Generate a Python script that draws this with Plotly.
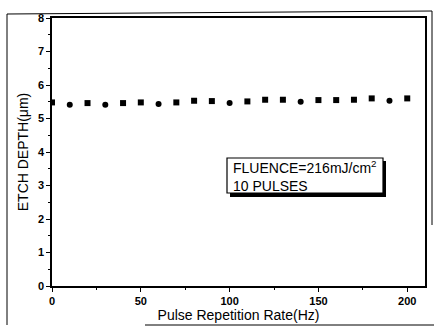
import plotly.graph_objects as go

rate_hz = [0, 10, 20, 30, 40, 50, 60, 70, 80, 90, 100, 110, 120, 130, 140, 150, 160, 170, 180, 190, 200]
etch_depth = [5.48, 5.41, 5.46, 5.41, 5.46, 5.48, 5.43, 5.48, 5.53, 5.52, 5.46, 5.51, 5.56, 5.56,
              5.50, 5.55, 5.55, 5.56, 5.60, 5.53, 5.60]
marker_syms = ["square", "circle", "square", "circle", "square", "square", "circle", "square",
               "square", "square", "circle", "square", "square", "square", "circle", "square",
               "square", "square", "square", "circle", "square"]
x_ticks = [0, 50, 100, 150, 200]
y_ticks = [0, 1, 2, 3, 4, 5, 6, 7, 8]

W, H = 434, 329
L, R, T, B = 52, 9, 18, 43
PW, PH = W - L - R, H - T - B

def px(x):
    return (x - L) / PW

def py(y):
    return (H - B - y) / PH

FONT = "Liberation Sans, Arial"

fig = go.Figure()
fig.add_trace(go.Scatter(
    x=rate_hz, y=etch_depth, mode="markers",
    marker=dict(symbol=marker_syms, size=6, color="black"),
    showlegend=False,
))

axis_common = dict(showline=True, linecolor="black", linewidth=1.5, mirror=True,
                   ticks="outside", ticklen=4, tickcolor="black", showgrid=False,
                   zeroline=False, automargin=False,
                   tickfont=dict(family=FONT, size=11, color="black", weight="bold"))

fig.update_xaxes(range=[0, 210], tickvals=x_ticks,
                 minor=dict(ticks="outside", ticklen=2, dtick=25, tickcolor="black"),
                 title=dict(text="Pulse Repetition Rate(Hz)", font=dict(family=FONT, size=14, color="black"), standoff=3),
                 **axis_common)
fig.update_yaxes(range=[0, 8], tickvals=y_ticks,
                 minor=dict(ticks="outside", ticklen=2, dtick=0.5, tickcolor="black"),
                 title=dict(text="ETCH DEPTH(μm)", font=dict(family=FONT, size=14, color="black"), standoff=6),
                 **axis_common)

shapes = [
    # outer scanned frame
    dict(type="line", xref="paper", yref="paper", x0=px(7), x1=px(7), y0=py(14), y1=py(325), line=dict(color="black", width=1)),
    dict(type="line", xref="paper", yref="paper", x0=px(7), x1=px(432), y0=py(14), y1=py(11), line=dict(color="black", width=1)),
    dict(type="line", xref="paper", yref="paper", x0=px(432), x1=px(432), y0=py(11), y1=py(225), line=dict(color="black", width=1)),
    dict(type="line", xref="paper", yref="paper", x0=px(145), x1=px(434), y0=py(325), y1=py(325), line=dict(color="black", width=1)),
    # annotation box shadow and box
    dict(type="rect", xref="paper", yref="paper", x0=px(230), x1=px(386), y0=py(197), y1=py(161),
         fillcolor="black", line=dict(width=0), layer="above"),
    dict(type="rect", xref="paper", yref="paper", x0=px(227), x1=px(383), y0=py(193), y1=py(158),
         fillcolor="white", line=dict(color="black", width=1.2), layer="above"),
]
fig.update_layout(shapes=shapes)

fig.add_annotation(xref="paper", yref="paper", x=px(231), y=py(176), xanchor="left", yanchor="middle",
                   text="FLUENCE=216mJ/cm<sup>2</sup><br>10 PULSES", align="left", showarrow=False,
                   font=dict(family=FONT, size=14, color="black"))

fig.update_layout(width=W, height=H, margin=dict(l=L, r=R, t=T, b=B),
                  paper_bgcolor="white", plot_bgcolor="white")

fig.write_html("out.html", config={"displayModeBar": False},
               post_script="document.body.style.margin='0';document.body.style.overflow='hidden';")
